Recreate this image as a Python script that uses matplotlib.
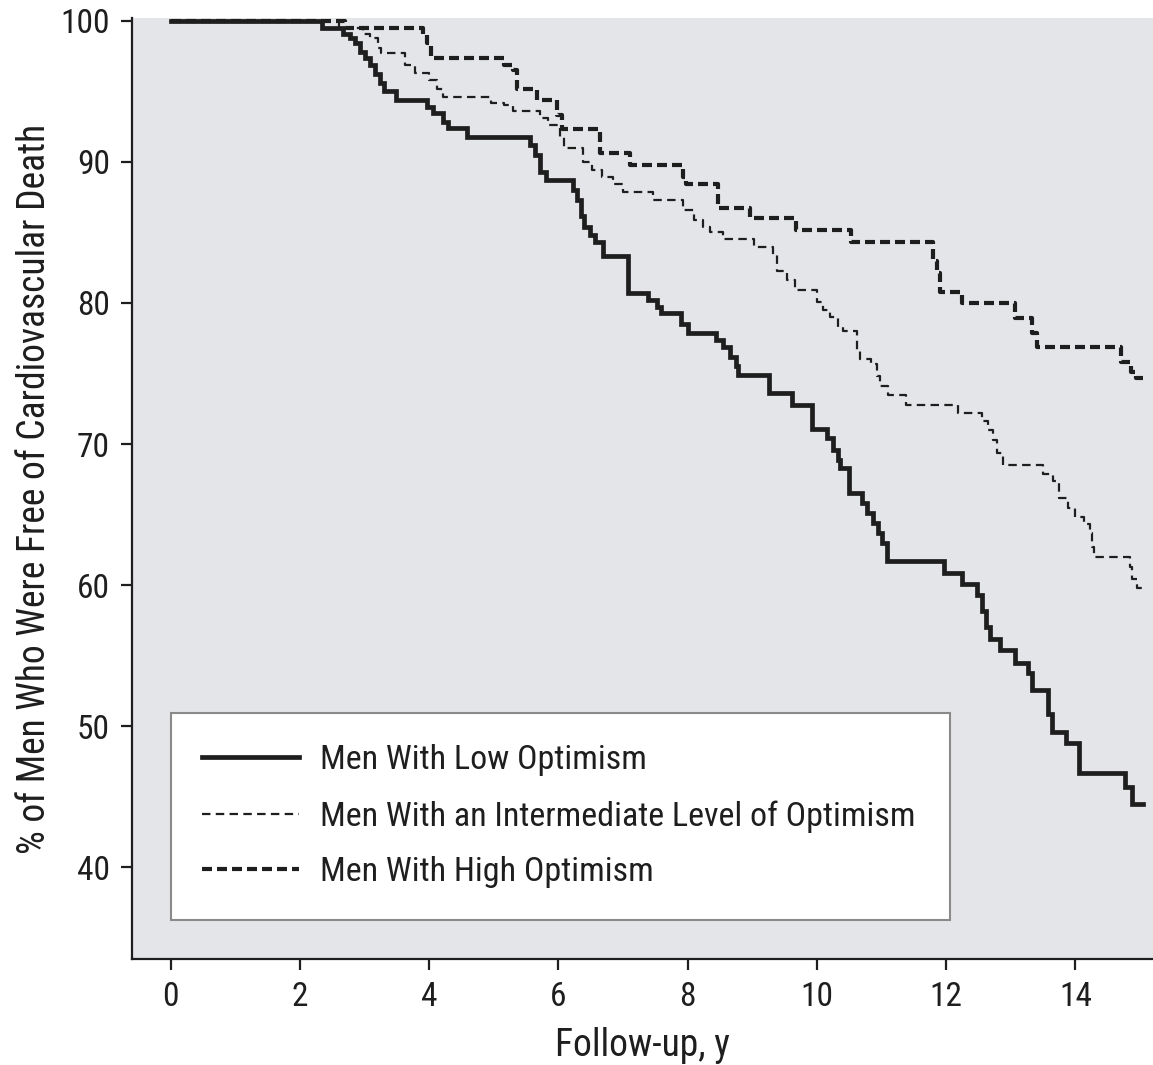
import matplotlib
matplotlib.use("Agg")
import matplotlib.pyplot as plt
from matplotlib import font_manager

# narrow sans if available, otherwise condensed DejaVu
names = {f.name for f in font_manager.fontManager.ttflist}
if "Roboto Condensed" in names:
    plt.rcParams["font.family"] = ["Roboto Condensed", "DejaVu Sans"]
else:
    plt.rcParams["font.family"] = ["DejaVu Sans"]
    plt.rcParams["font.stretch"] = "condensed"

# Kaplan-Meier style survival steps (time in years, % free of CV death)
end_time = 15.05

low_t = [0, 2.34, 2.67, 2.78, 2.85, 2.93, 3.01, 3.09, 3.16, 3.24, 3.30, 3.48,
         3.97, 4.06, 4.22, 4.29, 4.59, 5.56, 5.64, 5.72, 5.80, 6.23, 6.29, 6.35,
         6.40, 6.49, 6.57, 6.69, 7.08, 7.38, 7.53, 7.58, 7.89, 8.00, 8.43, 8.55,
         8.66, 8.74, 8.78, 9.25, 9.62, 9.93, 10.16, 10.25, 10.32, 10.36, 10.49,
         10.70, 10.78, 10.86, 10.94, 11.00, 11.08, 11.96, 12.25, 12.48, 12.56,
         12.62, 12.68, 12.84, 13.07, 13.27, 13.33, 13.57, 13.64, 13.86, 14.06,
         14.77, 14.88]
low_s = [100, 99.5, 99.1, 98.8, 98.4, 97.8, 97.4, 96.9, 96.2, 95.6, 95.0, 94.4,
         93.9, 93.5, 92.8, 92.4, 91.8, 91.2, 90.5, 89.3, 88.7, 88.0, 87.3, 86.2,
         85.4, 84.8, 84.3, 83.3, 80.7, 80.2, 79.7, 79.3, 78.5, 77.9, 77.4, 76.9,
         76.2, 75.5, 74.9, 73.6, 72.8, 71.1, 70.4, 69.6, 68.9, 68.3, 66.5,
         65.8, 65.1, 64.4, 63.7, 63.0, 61.7, 60.85, 60.1, 59.3, 58.2,
         57.0, 56.2, 55.4, 54.5, 53.8, 52.6, 50.9, 49.6, 48.8, 46.7,
         45.7, 44.5]

mid_t = [0, 2.6, 2.97, 3.09, 3.21, 3.25, 3.63, 3.78, 4.00, 4.12, 4.22, 4.95,
         5.15, 5.30, 5.72, 5.83, 6.03, 6.08, 6.38, 6.52, 6.68, 6.85, 7.00, 7.47,
         7.93, 8.09, 8.23, 8.35, 8.55, 9.02, 9.32, 9.38, 9.54, 9.66, 10.00, 10.10,
         10.20, 10.33, 10.41, 10.62, 10.67, 10.83, 10.93, 10.98, 11.10, 11.38,
         12.19, 12.56, 12.64, 12.72, 12.78, 12.88, 13.50, 13.65, 13.74, 13.88,
         14.00, 14.13, 14.22, 14.26, 14.28, 14.85, 14.88, 14.95]
mid_s = [100, 99.5, 99.1, 98.8, 98.1, 97.7, 96.9, 96.3, 95.8, 95.2, 94.6, 94.2,
         94.0, 93.6, 93.1, 92.6, 91.8, 91.0, 90.0, 89.4, 88.9, 88.4, 87.9, 87.3,
         86.6, 85.9, 85.4, 85.0, 84.5, 84.0, 83.4, 82.3, 81.6, 80.9, 80.1, 79.5,
         79.0, 78.3, 78.0, 76.7, 76.0, 75.7, 74.8, 74.1, 73.5, 72.8,
         72.2, 71.6, 71.0, 70.3, 69.4, 68.5, 67.9, 67.4, 66.2, 65.5,
         64.8, 64.3, 63.7, 62.7, 62.0, 61.3, 60.4, 59.8]

high_t = [0, 2.7, 3.90, 3.96, 4.02, 5.15, 5.30, 5.36, 5.67, 5.98, 6.05, 6.65,
          7.11, 7.92, 7.98, 8.47, 8.97, 9.67, 10.52, 11.79, 11.85, 11.90, 12.25,
          13.07, 13.33, 13.41, 14.70, 14.86, 14.94]
high_s = [100, 99.5, 99.0, 98.4, 97.4, 96.9, 96.5, 95.2, 94.4, 93.3, 92.3, 90.6,
          89.8, 88.9, 88.4, 86.7, 86.0, 85.2, 84.3, 83.0, 82.1, 80.8, 80.0,
          78.9, 77.9, 76.9, 75.8, 75.1, 74.7]

labels = ["Men With Low Optimism",
          "Men With an Intermediate Level of Optimism",
          "Men With High Optimism"]

fig = plt.figure(figsize=(11.53, 10.65), dpi=100)
ax = fig.add_axes([132 / 1153, 106 / 1065, 1021 / 1153, 941 / 1065])
ax.set_facecolor("#e3e5e8")

ink = "#1e1e1e"
ax.step(low_t + [end_time], low_s + [low_s[-1]], where="post", color=ink,
        lw=3.4, solid_joinstyle="miter", label=labels[0])
ax.step(mid_t + [end_time], mid_s + [mid_s[-1]], where="post", color=ink,
        lw=1.6, dashes=(3.8, 2.4), label=labels[1])
ax.step(high_t + [end_time], high_s + [high_s[-1]], where="post", color=ink,
        lw=3.0, dashes=(2.4, 1.2), label=labels[2])

ax.set_xlim(-0.6, 15.2)
ax.set_ylim(33.5, 100.2)
ax.set_xticks(range(0, 15, 2))
ax.set_yticks(range(40, 101, 10))

for side in ["top", "right"]:
    ax.spines[side].set_visible(False)
for side in ["left", "bottom"]:
    ax.spines[side].set_linewidth(1.6)
    ax.spines[side].set_color(ink)

ax.tick_params(axis="both", direction="out", length=8, width=1.6,
               color=ink, labelsize=24, labelcolor=ink, pad=8)

ax.set_xlabel("Follow-up, y", fontsize=27, color=ink, labelpad=10)
ax.set_ylabel("% of Men Who Were Free of Cardiovascular Death", fontsize=27,
              color=ink, labelpad=5)

leg = ax.legend(loc="lower left", bbox_to_anchor=(0.038, 0.0414, 0.763, 0.221),
                mode="expand", fontsize=24.5, frameon=True, fancybox=False,
                framealpha=1, borderpad=0.93, labelspacing=0.7,
                handlelength=2.85, handletextpad=0.6, borderaxespad=0)
leg.get_frame().set_facecolor("white")
leg.get_frame().set_edgecolor("#8a8a8a")
leg.get_frame().set_linewidth(1.5)
for t in leg.get_texts():
    t.set_color(ink)

fig.savefig("out.png", dpi=100)
